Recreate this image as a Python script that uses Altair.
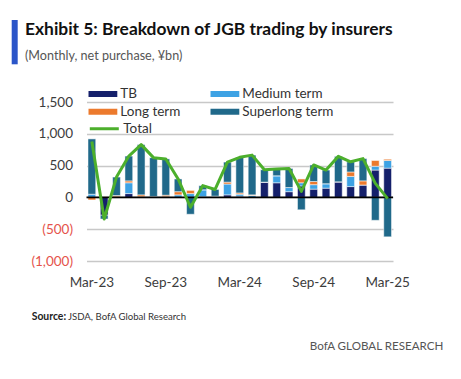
import altair as alt
import pandas as pd

FONT = "Lato"

months = ["Mar-23", "Apr-23", "May-23", "Jun-23", "Jul-23", "Aug-23", "Sep-23", "Oct-23",
          "Nov-23", "Dec-23", "Jan-24", "Feb-24", "Mar-24", "Apr-24", "May-24", "Jun-24",
          "Jul-24", "Aug-24", "Sep-24", "Oct-24", "Nov-24", "Dec-24", "Jan-25", "Feb-25", "Mar-25"]
tb = [0, -280, 0, 60, 0, 0, 0, 0, 0, 10, 0, 40, 20, 0, 240, 230, 90, 180, 130, 145, 245, 170, 195, 430, 460]
medium = [50, 0, 10, 170, 10, 15, 10, 40, 60, 110, 20, 170, 30, 30, 0, 110, 65, 50, 70, 70, 0, 160, 0, 60, 120]
long_term = [-40, 0, 20, 30, 30, 0, 25, 50, 50, 0, 0, 30, 20, 10, 0, 0, 0, 60, 50, 0, 0, 70, 65, 90, 20]
superlong = [870, -60, 290, 390, 790, 610, 570, 200, -265, 65, 105, 315, 560, 625, 195, 105, 300, -195, 260, 215, 400, 160, 350, -360, -620]
total = [880, -340, 320, 650, 830, 625, 605, 290, -155, 185, 125, 555, 630, 665, 435, 445, 455, 95, 510, 430, 645, 560, 610, 220, -20]

bar_series = ["TB", "Medium term", "Long term", "Superlong term"]
bar_colors = {"TB": "#15206b", "Medium term": "#3da2e4", "Long term": "#ec7a2d", "Superlong term": "#20698a"}
legend_order = ["TB", "Long term", "Medium term", "Superlong term"]
line_color = "#4caf2c"
x_label_values = ["Mar-23", "Sep-23", "Mar-24", "Sep-24", "Mar-25"]
y_ticks = [-1000, -500, 0, 500, 1000, 1500]

title_text = "Exhibit 5: Breakdown of JGB trading by insurers"
subtitle_text = "(Monthly, net purchase, ¥bn)"
source_bold = "Source:"
source_rest = "JSDA, BofA Global Research"
brand_text = "BofA GLOBAL RESEARCH"

rows = []
for k, (name, vals) in enumerate(zip(bar_series, [tb, medium, long_term, superlong])):
    for m, v in zip(months, vals):
        rows.append({"month": m, "series": name, "value": v, "order": k})
bars_df = pd.DataFrame(rows)
line_df = pd.DataFrame({"month": months, "value": total, "series": ["Total"] * len(months)})

x_axis = alt.Axis(values=x_label_values, labelAngle=0, ticks=False, domain=False, grid=False,
                  labelFont=FONT, labelFontSize=13.5, labelColor="#3c3c3c", labelPadding=14, title=None)
x_scale = alt.Scale(paddingInner=0.37, paddingOuter=0.12)
y_scale = alt.Scale(domain=[-1000, 1500], nice=False)
y_axis = alt.Axis(
    values=y_ticks, ticks=False, domain=False, grid=True, gridColor="#c8c8c8", gridWidth=1.5,
    labelFont=FONT, labelFontSize=13.5, labelPadding=14, title=None, labelOverlap=False,
    labelExpr="datum.value < 0 ? '(' + format(-datum.value, ',') + ')' : format(datum.value, ',')",
    labelColor={"expr": "datum.value < 0 ? '#e5534b' : '#3c3c3c'"},
)

bars = alt.Chart(bars_df).mark_bar(stroke="white", strokeWidth=0.5).encode(
    x=alt.X("month:O", sort=months, scale=x_scale, axis=x_axis),
    y=alt.Y("value:Q", scale=y_scale, axis=y_axis, stack="zero"),
    color=alt.Color("series:N",
                    scale=alt.Scale(domain=legend_order, range=[bar_colors[s] for s in legend_order]),
                    legend=alt.Legend(orient="none", legendX=1.8, legendY=-17, columns=2,
                                      columnPadding=29, rowPadding=0, clipHeight=17.5,
                                      symbolType="M-1,-0.2H1V0.2H-1Z", symbolSize=841,
                                      symbolStrokeWidth=0, symbolOpacity=1,
                                      labelFont=FONT, labelFontSize=13.5, labelColor="#333333",
                                      labelOffset=3, padding=0, title=None)),
    order=alt.Order("order:Q"),
)

zero = alt.Chart(pd.DataFrame({"y": [0]})).mark_rule(color="black", strokeWidth=1.6).encode(
    y=alt.Y("y:Q", scale=y_scale, axis=y_axis))

line = alt.Chart(line_df).mark_line(strokeWidth=3, strokeJoin="round").encode(
    x=alt.X("month:O", sort=months, scale=x_scale, axis=x_axis),
    y=alt.Y("value:Q", scale=y_scale, axis=y_axis),
    color=alt.Color("series:N", scale=alt.Scale(domain=["Total"], range=[line_color]),
                    legend=alt.Legend(orient="none", legendX=1.8, legendY=18, symbolType="stroke",
                                      symbolSize=841, symbolStrokeWidth=3, clipHeight=17.5,
                                      labelFont=FONT, labelFontSize=13.5, labelColor="#333333",
                                      labelOffset=3, padding=0, title=None)),
)


def txt(s, x, y, size, color, weight="normal", align="left"):
    return alt.Chart(pd.DataFrame({"t": [s]})).mark_text(
        align=align, baseline="alphabetic", font=FONT, fontSize=size, fontWeight=weight, color=color
    ).encode(x=alt.value(x), y=alt.value(y), text="t:N")


accent = alt.Chart(pd.DataFrame({"a": [0]})).mark_rule(color="#2b55c8", strokeWidth=6).encode(
    x=alt.value(-71.8), y=alt.value(-82), y2=alt.value(-37.7))

chart = alt.layer(
    bars, zero, line, accent,
    txt(title_text, -61.5, -67, 17.4, "#111111", "bold"),
    txt(subtitle_text, -61.5, -42.5, 12.6, "#555555"),
    txt(source_bold, -54.8, 218, 10.4, "#222222", "bold"),
    txt(source_rest, -18.5, 218, 9.6, "#333333"),
    txt(brand_text, 356.8, 248, 11.6, "#555555", align="right"),
).resolve_scale(color="independent").properties(
    width=306.5, height=159,
    padding={"left": 78.5, "top": 94, "right": 56, "bottom": 108},
    autosize=alt.AutoSizeParams(type="none"),
).configure_view(stroke=None)

chart.save("out.html", embed_options={"renderer": "svg", "actions": False})
